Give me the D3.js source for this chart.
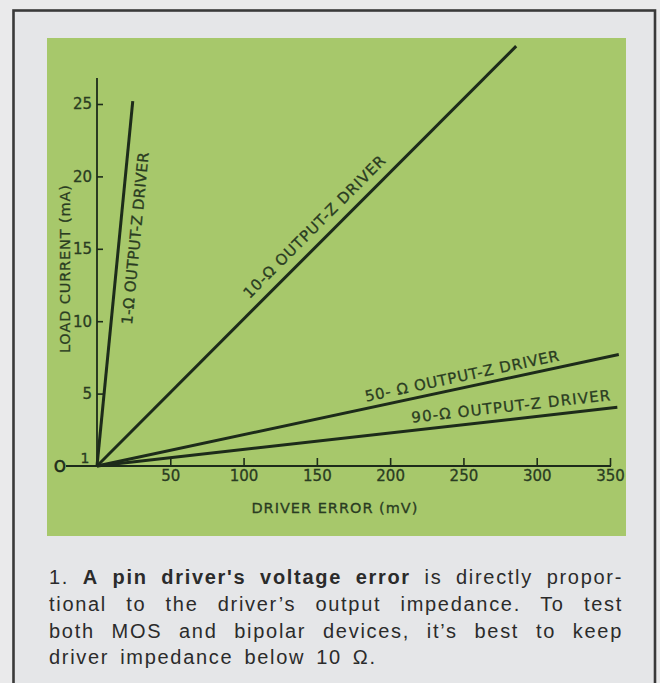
<!DOCTYPE html>
<html>
<head>
<meta charset="utf-8">
<script src="https://cdn.jsdelivr.net/npm/d3@7"></script>
<style>
  html, body { margin: 0; padding: 0; background: #eaeaeb; }
  svg { display: block; }
</style>
</head>
<body>
<svg id="fig" width="660" height="683"></svg>
<script>
// Load current vs. driver error for pin drivers of different output impedance.
// Each driver is a straight line from the origin to its end point.
const drivers = ["1-Ω", "10-Ω", "50-Ω", "90-Ω"];
const driverLabels = ["1-Ω OUTPUT-Z DRIVER", "10-Ω OUTPUT-Z DRIVER", "50- Ω OUTPUT-Z DRIVER", "90-Ω OUTPUT-Z DRIVER"];
const startErrorMv = [0, 0, 0, 0];
const startCurrentMa = [0, 0, 0, 0];
const endErrorMv = [24.4, 286, 356, 355];
const endCurrentMa = [25.2, 29.0, 7.7, 4.05];

const xTickValues = [50, 100, 150, 200, 250, 300, 350];
const xTickLabels = ["50", "100", "150", "200", "250", "300", "350"];
const yTickValues = [5, 10, 15, 20, 25];
const yTickLabels = ["5", "10", "15", "20", "25"];
const xTitle = "DRIVER ERROR (mV)";
const yTitle = "LOAD CURRENT (mA)";

// Caption, one array of [word, bold] per printed line
const captionLines = [
  [["1.", 0], ["A", 1], ["pin", 1], ["driver's", 1], ["voltage", 1], ["error", 1], ["is", 0], ["directly", 0], ["propor-", 0]],
  [["tional", 0], ["to", 0], ["the", 0], ["driver’s", 0], ["output", 0], ["impedance.", 0], ["To", 0], ["test", 0]],
  [["both", 0], ["MOS", 0], ["and", 0], ["bipolar", 0], ["devices,", 0], ["it’s", 0], ["best", 0], ["to", 0], ["keep", 0]],
  [["driver", 0], ["impedance", 0], ["below", 0], ["10", 0], ["Ω.", 0]]
];

// Layout
const ink = "#1d2b1a";
const labelInk = "#2a3c22";
const chartFont = "'DejaVu Sans', sans-serif";
const labelAlong = [0.628, 0.544, 0.704, 0.798];   // fraction along each line
const labelNormal = [16, -15, -11.5, -12.8];        // px off the line (negative = above)
const labelLength = [173, 194, 198, 200];

const svg = d3.select("#fig");

// Page frame and green plot panel
svg.append("rect").attr("x", 0).attr("y", 0).attr("width", 660).attr("height", 683).attr("fill", "#eaeaeb");
svg.append("rect").attr("x", 13.5).attr("y", 10.5).attr("width", 641.5).attr("height", 720)
  .attr("fill", "#e5e6e8").attr("stroke", "#3a3a3a").attr("stroke-width", 2.6);
svg.append("rect").attr("x", 47).attr("y", 38).attr("width", 579).attr("height", 498).attr("fill", "#a7c86b");

const x = d3.scaleLinear().domain([0, 350]).range([97, 610]);
const y = d3.scaleLinear().domain([0, 25]).range([466, 104]);

const plot = svg.append("g");

function chartText(sel, size) {
  sel.attr("fill", labelInk).attr("stroke", labelInk).attr("stroke-width", 0.3)
    .style("font-family", chartFont).style("font-size", size + "px");
}

// X axis: ticks point up, labels below
const xAxis = d3.axisBottom(x)
  .tickValues(xTickValues)
  .tickFormat((d, i) => xTickLabels[i])
  .tickSize(-8).tickSizeOuter(0).tickPadding(4);
const gx = plot.append("g").attr("transform", `translate(0,${y(0)})`).call(xAxis);
gx.select(".domain").remove();
gx.selectAll(".tick line").attr("stroke", ink).attr("stroke-width", 1.6);
gx.selectAll(".tick text").call(chartText, 15);

// Y axis: ticks point right, labels on the left
const yAxis = d3.axisLeft(y)
  .tickValues(yTickValues)
  .tickFormat((d, i) => yTickLabels[i])
  .tickSize(-6).tickSizeOuter(0).tickPadding(5);
const gy = plot.append("g").attr("transform", `translate(${x(0)},0)`).call(yAxis);
gy.select(".domain").remove();
gy.selectAll(".tick line").attr("stroke", ink).attr("stroke-width", 1.6);
gy.selectAll(".tick text").call(chartText, 15);

// Axis lines, x axis running left to the zero mark
plot.append("line").attr("x1", 66).attr("x2", x(350) + 1).attr("y1", y(0)).attr("y2", y(0))
  .attr("stroke", ink).attr("stroke-width", 1.8);
plot.append("line").attr("x1", x(0)).attr("x2", x(0)).attr("y1", y(26.8)).attr("y2", y(0))
  .attr("stroke", ink).attr("stroke-width", 1.8);

// Zero mark and the small "1" by the origin
plot.append("text").attr("x", 60).attr("y", y(0) + 0.5).attr("text-anchor", "middle")
  .attr("dominant-baseline", "central")
  .call(chartText, 15).attr("fill", ink).attr("stroke", ink).attr("stroke-width", 0.7)
  .text("O");
plot.append("text").attr("x", 85).attr("y", y(0) - 3).attr("text-anchor", "middle")
  .call(chartText, 14).text("1");

// Axis titles
plot.append("text").attr("x", x(162)).attr("y", 508).attr("text-anchor", "middle")
  .attr("dominant-baseline", "central")
  .attr("textLength", 166).attr("lengthAdjust", "spacing")
  .call(chartText, 14.5).text(xTitle);
plot.append("text").attr("transform", `translate(65,${y(13.6)}) rotate(-90)`)
  .attr("text-anchor", "middle").attr("dominant-baseline", "central")
  .attr("textLength", 168).attr("lengthAdjust", "spacing")
  .call(chartText, 14.5).text(yTitle);

// Driver lines
const lines = drivers.map((d, i) => ({
  name: d,
  label: driverLabels[i],
  pts: [[startErrorMv[i], startCurrentMa[i]], [endErrorMv[i], endCurrentMa[i]]]
}));
const lineGen = d3.line().x(p => x(p[0])).y(p => y(p[1]));
plot.selectAll("path.driver").data(lines).join("path")
  .attr("class", "driver")
  .attr("d", d => lineGen(d.pts))
  .attr("fill", "none").attr("stroke", ink).attr("stroke-width", 3).attr("stroke-linecap", "butt");

// Labels set along each line
lines.forEach((d, i) => {
  const [p0, p1] = d.pts;
  const sx0 = x(p0[0]), sy0 = y(p0[1]), sx1 = x(p1[0]), sy1 = y(p1[1]);
  const ang = Math.atan2(sy1 - sy0, sx1 - sx0);
  const t = labelAlong[i];
  const cx = sx0 + (sx1 - sx0) * t, cy = sy0 + (sy1 - sy0) * t;
  const nx = -Math.sin(ang), ny = Math.cos(ang);
  const px = cx + nx * labelNormal[i], py = cy + ny * labelNormal[i];
  plot.append("text")
    .attr("transform", `translate(${px},${py}) rotate(${ang * 180 / Math.PI})`)
    .attr("text-anchor", "middle").attr("dominant-baseline", "central")
    .attr("textLength", labelLength[i]).attr("lengthAdjust", "spacing")
    .call(chartText, 15)
    .text(d.label);
});

// Caption, justified between the panel edges
const capLeft = 49, capRight = 623;
const capBase = [584, 611, 637.5, 664];
const capFont = "'Liberation Sans', Arial, sans-serif";
const cap = svg.append("g").attr("fill", "#2b2b2b");
captionLines.forEach((words, li) => {
  const nodes = words.map(([w, b]) => cap.append("text")
    .attr("y", capBase[li])
    .style("font-family", capFont).style("font-size", "20px")
    .style("font-weight", b ? "bold" : "normal")
    .style("letter-spacing", "1.7px")
    .text(w));
  const widths = nodes.map(n => n.node().getComputedTextLength());
  const total = d3.sum(widths);
  const last = li === captionLines.length - 1;
  const gap = last ? 11 : (capRight - capLeft - total) / (nodes.length - 1);
  let cx = capLeft;
  nodes.forEach((n, k) => { n.attr("x", cx); cx += widths[k] + gap; });
});
</script>
</body>
</html>
